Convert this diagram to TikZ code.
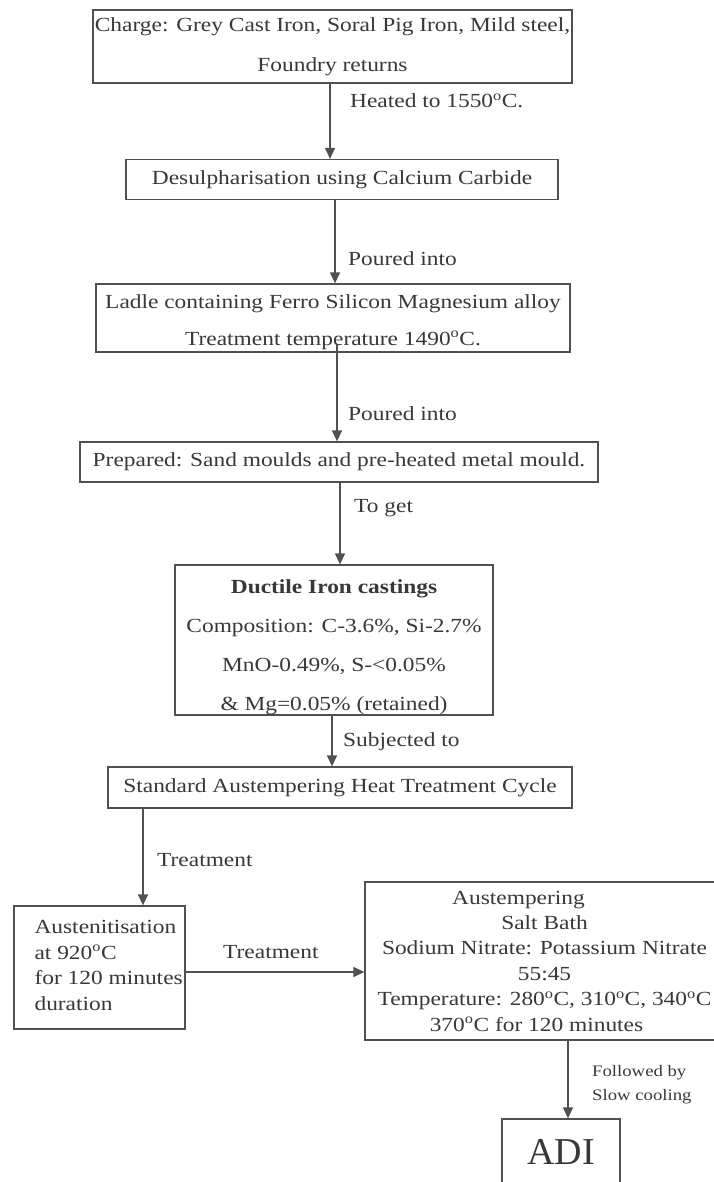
\documentclass[tikz,border=0pt]{standalone}
\usepackage{fontspec}
\setmainfont{Liberation Serif}[FakeStretch=1.17]
\newfontfamily\adifont{Liberation Serif}
\usetikzlibrary{arrows.meta}
\definecolor{ln}{HTML}{505050}
\definecolor{tx}{HTML}{383838}
\newcommand{\dgc}{\textsuperscript{o}C}
\begin{document}
\begin{tikzpicture}[x=1pt,y=-1pt,
  box/.style={draw=ln,line width=1.3pt,inner sep=0pt,text=tx,align=center},
  arr/.style={draw=ln,line width=1.3pt,-{Triangle[width=10pt,length=11pt]}},
  lbl/.style={text=tx,anchor=west,inner sep=0pt,font=\fontsize{20}{24}\selectfont},
  small/.style={text=tx,anchor=west,inner sep=0pt,align=left,font=\fontsize{16}{24}\selectfont}]
\useasboundingbox (0,0) rectangle (714,1182);
\fill[white] (0,0) rectangle (714,1182);

% boxes
\node[box, minimum width=479pt, minimum height=73pt, font=\fontsize{20}{40}\selectfont] (b1) at (332.5,46.5)
  {Charge: Grey Cast Iron, Soral Pig Iron, Mild steel,\\Foundry returns};
\node[box, minimum width=432pt, minimum height=40pt, font=\fontsize{20}{24}\selectfont] (b2) at (342,179.5)
  {Desulpharisation using Calcium Carbide};
\node[box, minimum width=474pt, minimum height=68pt, font=\fontsize{20}{37}\selectfont] (b3) at (333,318)
  {\rule{0pt}{22pt}Ladle containing Ferro Silicon Magnesium alloy\\Treatment temperature 1490\dgc.};
\node[box, minimum width=518pt, minimum height=40pt, font=\fontsize{20}{24}\selectfont] (b4) at (339,462)
  {Prepared: Sand moulds and pre-heated metal mould.};
\node[box, minimum width=318pt, minimum height=150pt, font=\fontsize{20}{39}\selectfont] (b5) at (334,640)
  {\rule{0pt}{28pt}\textbf{Ductile Iron castings}\\Composition: C-3.6\%, Si-2.7\%\\MnO-0.49\%, S-<0.05\%\\\& Mg=0.05\% (retained)};
\node[box, minimum width=464pt, minimum height=41pt, font=\fontsize{20}{24}\selectfont] (b6) at (340,787.5)
  {Standard Austempering Heat Treatment Cycle};
\node[box, minimum width=171pt, minimum height=123pt] (b7) at (99.5,967.5) {};
\node[lbl, align=left, font=\fontsize{20}{25.7}\selectfont] (b7t) at ([xshift=21pt,yshift=2pt]b7.west)
  {Austenitisation\\at 920\dgc\\for 120 minutes\\duration};
\node[box, minimum width=359pt, minimum height=158pt, font=\fontsize{20}{25.4}\selectfont] (b8) at (544.5,961)
  {Austempering\hspace*{52pt}\\Salt Bath\hspace*{28pt}\\Sodium Nitrate: Potassium Nitrate\\55:45\hspace*{34pt}\\Temperature: 280\dgc, 310\dgc, 340\dgc\\370\dgc{} for 120 minutes\hspace*{16pt}};
\node[box, minimum width=118pt, minimum height=66pt, font=\adifont\fontsize{38}{40}\selectfont] (b9) at (561,1152) {ADI};

% connectors
\draw[arr] (b1.south -| 330,0) -- (b2.north -| 330,0);
\node[lbl] (l1) at (350,101) {Heated to 1550\dgc.};
\draw[arr] (b2.south -| 335,0) -- (b3.north -| 335,0);
\node[lbl] (l2) at (348,259) {Poured into};
\draw[arr] ([yshift=8pt]b3.south -| 337,0) -- (b4.north -| 337,0);
\node[lbl] (l3) at (348,414) {Poured into};
\draw[arr] (b4.south -| 340,0) -- (b5.north -| 340,0);
\node[lbl] (l4) at (354,508) {To get};
\draw[arr] (b5.south -| 332,0) -- (b6.north -| 332,0);
\node[lbl] (l5) at (343,742) {Subjected to};
\draw[arr] (b6.south -| 143,0) -- (b7.north -| 143,0);
\node[lbl] (l6) at (157,860) {Treatment};
\draw[arr] (b7.east |- 0,972) -- (b8.west |- 0,972);
\node[lbl] (l7) at (223,952) {Treatment};
\draw[arr] (b8.south -| 568,0) -- (b9.north -| 568,0);
\node[small] (l8) at (592,1085) {Followed by\\Slow cooling};
\end{tikzpicture}
\end{document}
